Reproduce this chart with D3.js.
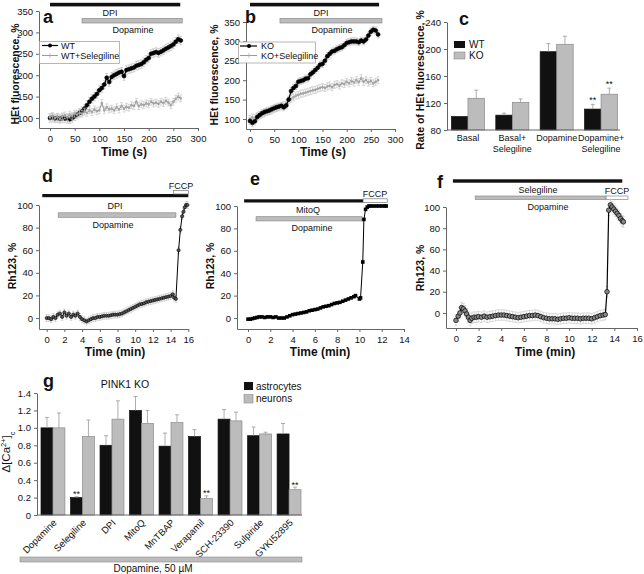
<!DOCTYPE html>
<html><head><meta charset="utf-8">
<script src="https://cdn.jsdelivr.net/npm/d3@7"></script>
<style>body{margin:0;background:#fff;} svg text{font-family:"Liberation Sans",Arial,Helvetica,sans-serif;}</style>
</head><body>
<script>
// ---------- DATA ----------
// Panel a / b : HEt fluorescence (%) vs time (s)
const timeAB = [0,5,10,15,20,25,30,35,40,45,50,55,60,65,70,75,80,85,90,95,100,105,110,115,120,125,130,135,140,145,150,155,160,165,170,175,180,185,190,195,200,205,210,215,220,225,230,235,240,245,250,255,260,265];
const wtA    = [100,101,99,100,98,100,99,98,97,100,104,108,112,116,122,130,138,145,150,156,165,170,178,194,184,196,200,203,206,208,198,212,214,216,218,222,224,226,230,236,240,250,252,254,252,255,258,262,265,268,272,278,284,281];
const wtSelA = [102,105,100,103,98,104,106,102,108,105,110,108,112,110,115,112,118,114,120,116,118,135,118,125,120,122,118,125,120,128,122,126,124,130,128,138,128,132,130,134,132,138,134,136,133,138,135,140,136,130,138,145,150,146];
const koB    = [95,90,94,105,110,115,118,120,122,125,128,130,132,134,130,135,150,172,180,185,196,198,200,204,205,215,220,226,232,240,242,250,262,268,274,276,280,283,285,290,296,298,300,300,300,298,302,300,305,315,325,330,328,318];
const koSelB = [100,104,102,108,110,112,114,118,120,122,126,128,130,133,136,140,148,152,156,160,162,165,166,168,170,172,174,175,178,180,182,180,184,186,182,188,190,186,192,190,196,192,198,194,200,195,205,196,200,194,198,192,196,200];
const semWT = 10, semWTSel = 8, semKO = 9, semKOSel = 9;
const seriesNamesA = ["WT","WT+Selegiline"];
const seriesNamesB = ["KO","KO+Selegiline"];
const dpiA = [0,264], dopA = [65,268];
const dpiB = [0,267], dopB = [62,273];
const ticksAB_x = [0,50,100,150,200,250,300];
const ticksAB_y = [100,150,200,250,300,350];

// Panel c : rate of HEt fluorescence
const catsC = ["Basal","Basal+|Selegiline","Dopamine","Dopamine+|Selegiline"];
const groupsC = ["WT","KO"];
const wtC  = [100,102,196,111];
const koC  = [127,121,207,133];
const wtCerr = [0,3,12,7];
const koCerr = [12,5,12,9];
const starsC = [[false,false],[false,false],[false,false],[true,true]];
const ticksC_y = [80,120,160,200,240];

// Panel d : Rh123 (%) vs time (min), DPI
const timeD = [0,0.25,0.5,0.75,1,1.25,1.5,1.75,2,2.25,2.5,2.75,3,3.25,3.5,3.75,4,4.25,4.5,4.75,5,5.25,5.5,5.75,6,6.25,6.5,6.75,7,7.25,7.5,7.75,8,8.25,8.5,8.75,9,9.25,9.5,9.75,10,10.25,10.5,10.75,11,11.25,11.5,11.75,12,12.25,12.5,12.75,13,13.25,13.5,13.75,14,14.25,14.4,14.6,14.9,15.1,15.3,15.45,15.6,15.75,15.9];
const rhD   = [0,0,-1,1,0,3,4,1,5,2,4,1,3,2,4,1,-1,-2,-3,-2,-1,0,0,1,1,1.5,2,2,2,2.5,3,3,3,3.5,4,5,6,7,8,9,10,11,12,12.5,13,14,14.5,15,15.5,16,16.5,17,17.5,18,18.5,19,19.5,21,18,17,60,78,90,94,98,100,100];
const semD = 3;
const dpiD = [-0.5,16], fccpD = [14.3,16], dopD = [1.3,14.6];

// Panel e : MitoQ
const timeE = [0,0.2,0.4,0.6,0.8,1,1.25,1.5,1.75,2,2.25,2.5,2.75,3,3.25,3.5,3.75,4,4.25,4.5,4.75,5,5.25,5.5,5.75,6,6.25,6.5,6.75,7,7.25,7.5,7.75,8,8.25,8.5,8.75,9,9.25,9.5,9.65,10,10.1,10.3,10.4,10.55,10.7,10.85,11,11.25,11.5,11.75,12,12.25,12.4];
const rhE   = [-1,-1,-0.5,0,0.5,1,1,0.5,1,1,0.5,1,0,0,0,1,2,3,3.5,4,4.5,5,5.5,6.5,7,7.5,8,9,10,10.5,11,12,13,13.5,14,15,16,17,18,19,20,17,18,50,88,97,99,100,100,100,100,100,100,100,100];
const mitoE = [-0.35,10.33], fccpE = [10.33,12.5], dopE = [0.72,10.23];

// Panel f : Selegiline
const timeF = [0,0.2,0.35,0.5,0.65,0.8,0.95,1.1,1.25,1.4,1.6,1.8,2,2.25,2.5,2.75,3,3.25,3.5,3.75,4,4.25,4.5,4.75,5,5.25,5.5,5.75,6,6.25,6.5,6.75,7,7.25,7.5,7.75,8,8.25,8.5,8.75,9,9.25,9.5,9.75,10,10.25,10.5,10.75,11,11.25,11.5,11.75,12,12.25,12.5,12.75,13,13.2,13.35,13.5,13.65,13.8,13.95,14.1,14.25,14.4,14.55,14.7,14.8];
const rhF   = [-7,-3,0,5,4,2,-1,-4,-7,-5,-4,-4,-3.5,-4,-3,-4,-3.5,-3,-2.5,-2,-2,-2,-2.5,-3,-3.5,-4,-4.5,-4,-3.5,-3,-2.5,-2.5,-2,-2.5,-3.5,-4.5,-5,-5.5,-5.5,-5.5,-6,-5.5,-5,-5,-4.5,-5,-5,-5,-5.5,-5,-5,-5,-5.5,-4.5,-3.5,-2.5,-2,-1.5,20,97,102,100,98,96,94,92,89,87,86];
const semF = 5;
const seleF = [-0.27,14.7], dopF = [1.7,13.27], fccpF = [13.27,15.2];
const ticksRh_y = [0,20,40,60,80,100];

// Panel g : Δ[Ca2+]c in PINK1 KO
const catsG = ["Dopamine","Selegiline","DPI","MitoQ","MnTBAP","Verapamil","SCH-23390","Sulpiride","GYKI52895"];
const cellsG = ["astrocytes","neurons"];
const astroG = [1.0,0.2,0.8,1.2,0.79,0.9,1.1,0.91,0.93];
const neuroG = [1.0,0.9,1.1,1.05,1.06,0.19,1.08,0.93,0.29];
const astroErr = [0.12,0.01,0.11,0.16,0.15,0.08,0.11,0.1,0.12];
const neuroErr = [0.17,0.19,0.21,0.15,0.09,0.03,0.1,0.02,0.03];
const starsG = [[false,false],[true,false],[false,false],[false,false],[false,false],[false,true],[false,false],[false,false],[false,true]];
const ticksG_y = [0,0.2,0.4,0.6,0.8,1.0,1.2,1.4];

// ---------- DRAWING ----------
const FONT = '"Liberation Sans", Arial, Helvetica, sans-serif';
const AX = '#666', BLK = '#111', GRY = '#bcbcbc', GRYS = '#8a8a8a';
const TF = 9; // tick / annotation font size
const svg = d3.select('body').append('svg').attr('width',644).attr('height',574);

function axes(x,y,xTicks,yTicks,xAt,yAt,yFmt){
  const gx = svg.append('g').attr('transform',`translate(0,${xAt})`)
    .call(d3.axisBottom(x).tickValues(xTicks).tickSize(3).tickSizeOuter(0).tickPadding(4));
  const gy = svg.append('g').attr('transform',`translate(${yAt},0)`)
    .call(d3.axisLeft(y).tickValues(yTicks).tickSize(3).tickSizeOuter(0).tickPadding(3).tickFormat(yFmt||d3.format('d')));
  [gx,gy].forEach(a=>{
    a.select('.domain').attr('stroke',AX);
    a.selectAll('line').attr('stroke',AX);
    a.selectAll('text').attr('font-size',TF+0.5).attr('font-family',FONT).attr('fill','#111');
  });
}
function yAxisOnly(y,yTicks,yAt,yFmt){
  const gy = svg.append('g').attr('transform',`translate(${yAt},0)`)
    .call(d3.axisLeft(y).tickValues(yTicks).tickSize(3).tickSizeOuter(0).tickPadding(3).tickFormat(yFmt||d3.format('d')));
  gy.select('.domain').attr('stroke',AX);
  gy.selectAll('line').attr('stroke',AX);
  gy.selectAll('text').attr('font-size',TF+0.5).attr('font-family',FONT).attr('fill','#111');
}
function txt(x,y,s,opt={}){
  return svg.append('text').attr('x',x).attr('y',y).text(s)
    .attr('font-size',opt.size||TF).attr('font-weight',opt.bold?'bold':'normal')
    .attr('text-anchor',opt.anchor||'middle').attr('fill','#111');
}
function ylabel(x,y,s,size=10.5,bold=true){
  return svg.append('text').attr('transform',`translate(${x},${y}) rotate(-90)`).text(s)
    .attr('font-size',size).attr('font-weight',bold?'bold':'normal').attr('text-anchor','middle').attr('fill','#111');
}
function errBars(x,y,ts,vs,err,color,cap=1.5,w=0.7){
  const g = svg.append('g').attr('stroke',color).attr('stroke-width',w);
  const d = ts.map((t,i)=>({t,v:vs[i]}));
  g.selectAll(null).data(d).enter().append('line')
    .attr('x1',p=>x(p.t)).attr('x2',p=>x(p.t)).attr('y1',p=>y(p.v-err)).attr('y2',p=>y(p.v+err));
  g.selectAll(null).data(d).enter().append('line')
    .attr('x1',p=>x(p.t)-cap).attr('x2',p=>x(p.t)+cap).attr('y1',p=>y(p.v+err)).attr('y2',p=>y(p.v+err));
  g.selectAll(null).data(d).enter().append('line')
    .attr('x1',p=>x(p.t)-cap).attr('x2',p=>x(p.t)+cap).attr('y1',p=>y(p.v-err)).attr('y2',p=>y(p.v-err));
}
function linePath(x,y,ts,vs,color,w){
  svg.append('path').datum(ts.map((t,i)=>[t,vs[i]]))
    .attr('d',d3.line().x(d=>x(d[0])).y(d=>y(d[1])))
    .attr('fill','none').attr('stroke',color).attr('stroke-width',w);
}
function circles(x,y,ts,vs,r,fill,stroke,sw=0.6){
  svg.append('g').selectAll(null).data(ts.map((t,i)=>[t,vs[i]])).enter().append('circle')
    .attr('cx',d=>x(d[0])).attr('cy',d=>y(d[1])).attr('r',r).attr('fill',fill).attr('stroke',stroke).attr('stroke-width',sw);
}
function treatBar(x,range,y0,h,fill,stroke){
  svg.append('rect').attr('x',x(range[0])).attr('y',y0).attr('width',x(range[1])-x(range[0])).attr('height',h)
    .attr('fill',fill).attr('stroke',stroke||'none').attr('stroke-width',0.7);
}
function blackSeries(x,y,ts,vs,err){
  errBars(x,y,ts,vs,err,'#c0c0c0');
  linePath(x,y,ts,vs,'#000',1.2);
  circles(x,y,ts,vs,2.0,'#000','#000');
}
function graySeries(x,y,ts,vs,err){
  errBars(x,y,ts,vs,err,'#c8c8c8');
  linePath(x,y,ts,vs,'#9a9a9a',1);
  circles(x,y,ts,vs,1.1,'#aaa','#999',0.5);
}
function letter(x,y,s){ txt(x,y,s,{size:18,bold:true,anchor:'start'}); }

// ===== Panel a =====
{
  const x = d3.scaleLinear().domain([-22.3,300]).range([39,198]);
  const y = d3.scaleLinear().domain([76.6,350]).range([128,11]);
  treatBar(x,dpiA,2.8,3.6,BLK);
  treatBar(x,dopA,18.5,4.5,GRY,GRYS);
  txt(110,16,"DPI");
  txt(133,33,"Dopamine");
  axes(x,y,ticksAB_x,ticksAB_y,128,39);
  blackSeries(x,y,timeAB,wtA,semWT);
  graySeries(x,y,timeAB,wtSelA,semWTSel);
  // legend
  svg.append('rect').attr('x',39.5).attr('y',41.5).attr('width',80).attr('height',22).attr('fill','#fff').attr('stroke','#999').attr('stroke-width',0.7);
  svg.append('line').attr('x1',42).attr('x2',58).attr('y1',45.5).attr('y2',45.5).attr('stroke','#000').attr('stroke-width',1.2);
  svg.append('circle').attr('cx',50).attr('cy',45.5).attr('r',2.0).attr('fill','#000');
  txt(61,48.8,seriesNamesA[0],{anchor:'start'});
  svg.append('line').attr('x1',42).attr('x2',58).attr('y1',55.5).attr('y2',55.5).attr('stroke','#9a9a9a').attr('stroke-width',1);
  svg.append('line').attr('x1',50).attr('x2',50).attr('y1',53).attr('y2',58).attr('stroke','#aaa').attr('stroke-width',0.7);
  txt(61,58.8,seriesNamesA[1],{anchor:'start'});
  ylabel(19,74,"HEt fluorescence, %");
  txt(124,156,"Time (s)",{size:12,bold:true});
  letter(43,23,"a");
}
// ===== Panel b =====
{
  const x = d3.scaleLinear().domain([-8.3,300]).range([246,395]);
  const y = d3.scaleLinear().domain([74.2,350]).range([129,22]);
  treatBar(x,dpiB,2.8,3.6,BLK);
  treatBar(x,dopB,18.5,4.5,GRY,GRYS);
  txt(321,16,"DPI");
  txt(332,33,"Dopamine");
  axes(x,y,ticksAB_x,ticksAB_y,129,246);
  graySeries(x,y,timeAB,koSelB,semKOSel);
  blackSeries(x,y,timeAB,koB,semKO);
  svg.append('rect').attr('x',238.5).attr('y',42).attr('width',77).attr('height',21).attr('fill','#fff').attr('stroke','#999').attr('stroke-width',0.7);
  svg.append('line').attr('x1',240).attr('x2',257).attr('y1',46).attr('y2',46).attr('stroke','#000').attr('stroke-width',1.2);
  svg.append('circle').attr('cx',249).attr('cy',46).attr('r',2.0).attr('fill','#000');
  txt(261,49.3,seriesNamesB[0],{anchor:'start'});
  svg.append('line').attr('x1',240).attr('x2',257).attr('y1',55.5).attr('y2',55.5).attr('stroke','#9a9a9a').attr('stroke-width',1);
  svg.append('line').attr('x1',249).attr('x2',249).attr('y1',53).attr('y2',58).attr('stroke','#aaa').attr('stroke-width',0.7);
  txt(261,58.8,seriesNamesB[1],{anchor:'start'});
  ylabel(218,75,"HEt fluorescence, %");
  txt(323,156,"Time (s)",{size:12,bold:true});
  letter(245,23,"b");
}
// ===== Panel c =====
{
  const y = d3.scaleLinear().domain([80,240]).range([130,22]);
  const x0 = d3.scaleBand().domain(catsC).range([447,622]).paddingInner(0.255).paddingOuter(0.1);
  const x1 = d3.scaleBand().domain(groupsC).range([0,x0.bandwidth()]);
  yAxisOnly(y,ticksC_y,447);
  const vals = [wtC,koC], errs = [wtCerr,koCerr];
  groupsC.forEach((gname,gi)=>{
    const gg = svg.append('g');
    gg.selectAll(null).data(catsC).enter().append('rect')
      .attr('x',c=>x0(c)+x1(gname)).attr('width',x1.bandwidth())
      .attr('y',(c,i)=>y(vals[gi][i])).attr('height',(c,i)=>y(80)-y(vals[gi][i]))
      .attr('fill',gi?GRY:BLK).attr('stroke',gi?GRYS:BLK).attr('stroke-width',0.7);
    catsC.forEach((c,i)=>{
      const cx = x0(c)+x1(gname)+x1.bandwidth()/2, v=vals[gi][i], e=errs[gi][i];
      if(e>0){
        svg.append('line').attr('x1',cx).attr('x2',cx).attr('y1',y(v)).attr('y2',y(v+e)).attr('stroke','#999').attr('stroke-width',0.8);
        svg.append('line').attr('x1',cx-2).attr('x2',cx+2).attr('y1',y(v+e)).attr('y2',y(v+e)).attr('stroke','#999').attr('stroke-width',0.8);
      }
      if(starsC[i][gi]) txt(cx,y(v+e)-1.5,"**");
    });
  });
  svg.append('line').attr('x1',447).attr('x2',620).attr('y1',130).attr('y2',130).attr('stroke',AX);
  catsC.forEach(c=>{
    const parts=c.split('|'), cx=x0(c)+x0.bandwidth()/2;
    parts.forEach((p,k)=>txt(cx,141+k*11,p,{size:9}));
  });
  svg.append('rect').attr('x',454).attr('y',41).attr('width',11).attr('height',7).attr('fill',BLK);
  svg.append('rect').attr('x',454).attr('y',52).attr('width',11).attr('height',7).attr('fill',GRY).attr('stroke',GRYS).attr('stroke-width',0.6);
  txt(469,47.8,groupsC[0],{anchor:'start',size:10});
  txt(469,58.8,groupsC[1],{anchor:'start',size:10});
  ylabel(424,80,"Rate of HEt fluorescence, %");
  letter(459,25,"c");
}
// ===== Panel d =====
{
  const x = d3.scaleLinear().domain([-0.87,16]).range([39,188.3]);
  const y = d3.scaleLinear().domain([-9.7,100]).range([329,205]);
  treatBar(x,dpiD,194,3.2,BLK);
  treatBar(x,fccpD,190.6,3.4,'#fff','#777');
  treatBar(x,dopD,212.8,4.5,GRY,GRYS);
  txt(181,189,"FCCP");
  txt(115,209,"DPI");
  txt(113,228,"Dopamine");
  axes(x,y,[0,2,4,6,8,10,12,14,16],ticksRh_y,329,39);
  errBars(x,y,timeD,rhD,semD,'#bdbdbd',1.2,0.6);
  linePath(x,y,timeD,rhD,'#000',1);
  circles(x,y,timeD,rhD,1.6,'#555','#000',0.6);
  ylabel(16,266,"Rh123, %");
  txt(115,356,"Time (min)",{size:12,bold:true});
  letter(42,182,"d");
}
// ===== Panel e =====
{
  const x = d3.scaleLinear().domain([-0.99,14]).range([237,404]);
  const y = d3.scaleLinear().domain([-9.8,100]).range([329,206]);
  treatBar(x,mitoE,199.3,3.2,BLK);
  treatBar(x,fccpE,198.8,3.6,'#fff','#777');
  treatBar(x,dopE,216.7,4.2,GRY,GRYS);
  txt(375,196.5,"FCCP");
  txt(308,212.5,"MitoQ");
  txt(312,230.5,"Dopamine");
  axes(x,y,[0,2,4,6,8,10,12,14],ticksRh_y,329,237);
  linePath(x,y,timeE,rhE,'#000',1);
  svg.append('g').selectAll(null).data(timeE.map((t,i)=>[t,rhE[i]])).enter().append('rect')
    .attr('x',d=>x(d[0])-1.8).attr('y',d=>y(d[1])-1.8).attr('width',3.6).attr('height',3.6).attr('fill','#000');
  ylabel(214,266,"Rh123, %");
  txt(320,356,"Time (min)",{size:12,bold:true});
  letter(250,185,"e");
}
// ===== Panel f =====
{
  const x = d3.scaleLinear().domain([-0.88,16]).range([446,637]);
  const y = d3.scaleLinear().domain([-14.2,100]).range([328,207]);
  treatBar(x,seleF,179.3,3.4,BLK);
  treatBar(x,dopF,196,3.4,GRY,GRYS);
  treatBar(x,fccpF,196,3.4,'#fff','#888');
  txt(538,193,"Selegiline");
  txt(617,194,"FCCP");
  txt(548,209.5,"Dopamine");
  axes(x,y,[0,2,4,6,8,10,12,14,16],ticksRh_y,328,446);
  errBars(x,y,timeF,rhF,semF,'#c4c4c4',1.5,0.6);
  linePath(x,y,timeF,rhF,'#000',1.2);
  circles(x,y,timeF,rhF,2.3,'#888','#000',0.7);
  ylabel(424,268,"Rh123, %");
  txt(545,356,"Time (min)",{size:12,bold:true});
  letter(437,188,"f");
}
// ===== Panel g =====
{
  const y = d3.scaleLinear().domain([0,1.4]).range([515,393]);
  const x0 = d3.scaleBand().domain(catsG).range([41,301]).paddingInner(0.19).paddingOuter(0);
  const x1 = d3.scaleBand().domain(cellsG).range([0,x0.bandwidth()]);
  yAxisOnly(y,ticksG_y,37,d=>d===0?'0':d.toFixed(1));
  const vals=[astroG,neuroG], errs=[astroErr,neuroErr];
  cellsG.forEach((cn,ci)=>{
    svg.append('g').selectAll(null).data(catsG).enter().append('rect')
      .attr('x',c=>x0(c)+x1(cn)).attr('width',x1.bandwidth())
      .attr('y',(c,i)=>y(vals[ci][i])).attr('height',(c,i)=>y(0)-y(vals[ci][i]))
      .attr('fill',ci?GRY:BLK).attr('stroke',ci?GRYS:BLK).attr('stroke-width',0.7);
    catsG.forEach((c,i)=>{
      const cx=x0(c)+x1(cn)+x1.bandwidth()/2, v=vals[ci][i], e=errs[ci][i];
      svg.append('line').attr('x1',cx).attr('x2',cx).attr('y1',y(v)).attr('y2',y(v+e)).attr('stroke','#999').attr('stroke-width',0.8);
      svg.append('line').attr('x1',cx-2).attr('x2',cx+2).attr('y1',y(v+e)).attr('y2',y(v+e)).attr('stroke','#999').attr('stroke-width',0.8);
      if(starsG[i][ci]) txt(cx,y(v+e)+0.5,"**");
    });
  });
  svg.append('line').attr('x1',37).attr('x2',302).attr('y1',515).attr('y2',515).attr('stroke',AX);
  catsG.forEach(c=>{
    const cx=x0(c)+x0.bandwidth()/2+2;
    svg.append('text').attr('transform',`translate(${cx},${521}) rotate(-45)`).attr('text-anchor','end')
      .attr('dy','0.35em').attr('font-size',9.5).attr('fill','#111').text(c);
  });
  svg.append('rect').attr('x',20).attr('y',557).attr('width',282).attr('height',5).attr('fill',GRY).attr('stroke',GRYS).attr('stroke-width',0.6);
  txt(153,572,"Dopamine, 50 µM",{size:10});
  // legend
  svg.append('rect').attr('x',244).attr('y',382).attr('width',9).attr('height',8).attr('fill',BLK);
  svg.append('rect').attr('x',244).attr('y',394.5).attr('width',9).attr('height',8.5).attr('fill',GRY).attr('stroke',GRYS).attr('stroke-width',0.6);
  txt(256,389.5,cellsG[0],{anchor:'start',size:10});
  txt(256,402,cellsG[1],{anchor:'start',size:10});
  txt(125,388,"PINK1 KO",{size:10.5});
  letter(43,387,"g");
  const yl = svg.append('text').attr('transform','translate(10,452) rotate(-90)').attr('text-anchor','middle').attr('font-size',11.5).attr('fill','#111');
  yl.append('tspan').text('Δ[Ca');
  yl.append('tspan').attr('baseline-shift','super').attr('font-size',7.5).text('2+');
  yl.append('tspan').text(']');
  yl.append('tspan').attr('baseline-shift','sub').attr('font-size',7.5).text('c');
}
</script>
</body></html>
